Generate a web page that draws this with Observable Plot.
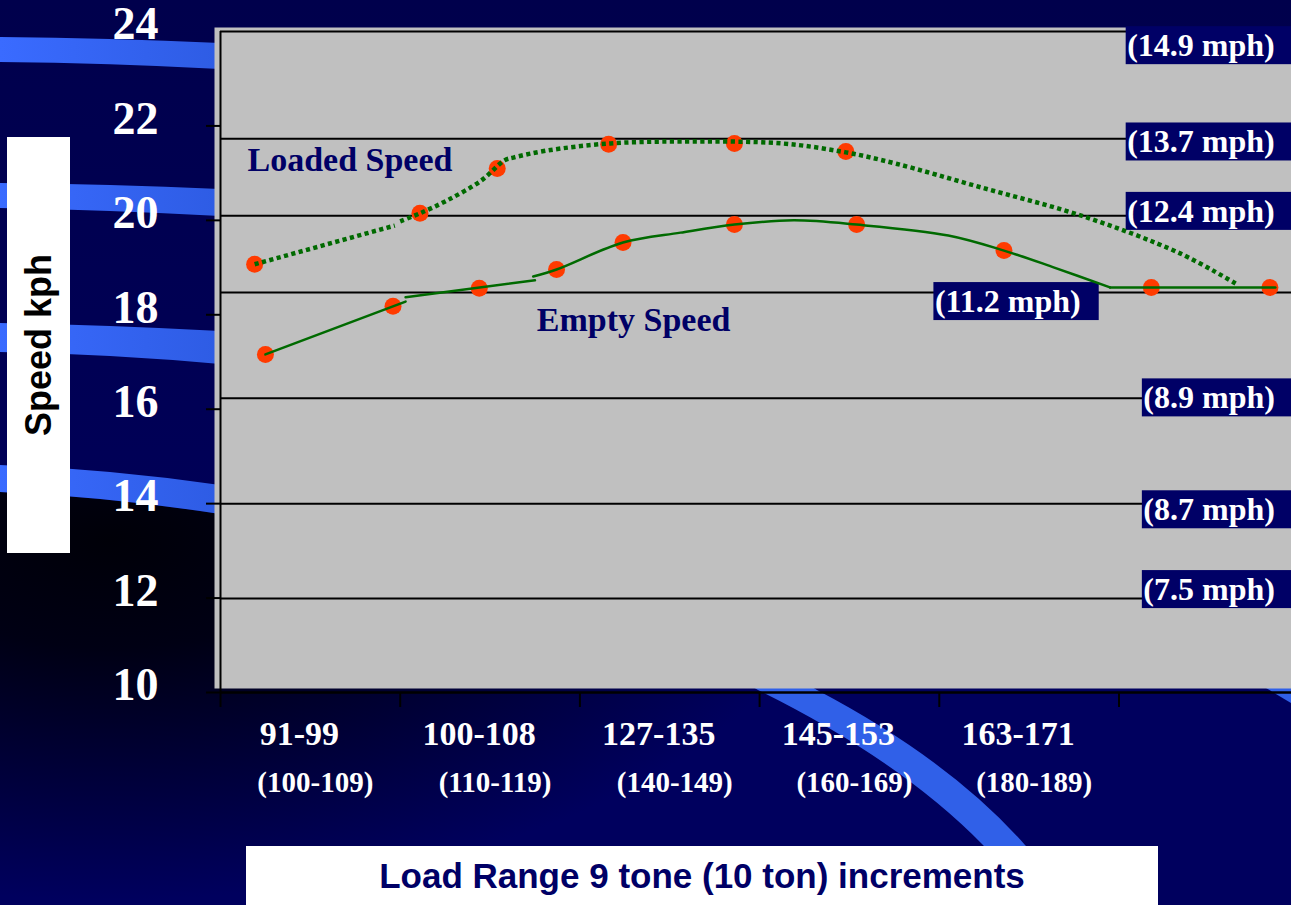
<!DOCTYPE html>
<html>
<head>
<meta charset="utf-8">
<script src="https://cdn.jsdelivr.net/npm/d3@7"></script>
<script src="https://cdn.jsdelivr.net/npm/@observablehq/plot@0.6"></script>
<style>
  html, body { margin: 0; padding: 0; background: #000058; overflow: hidden; }
  #wrap { position: relative; width: 1291px; height: 905px; }
  #bg, #chart { position: absolute; left: 0; top: 0; }
  #ytitle { position: absolute; left: 7px; top: 137px; width: 63px; height: 416px; background: #fff; }
  #ytitle span { position: absolute; left: 50%; top: 50%; transform: translate(-50%, -50%) rotate(-90deg);
    font: bold 36px "Liberation Sans", Arial, sans-serif; color: #000; white-space: nowrap; }
  #xtitle { position: absolute; left: 246px; top: 846px; width: 912px; height: 59px; background: #fff;
    text-align: center; font: bold 35px/59px "Liberation Sans", Arial, sans-serif; color: #000066; white-space: nowrap; }
</style>
</head>
<body>
<div id="wrap">
  <svg id="bg" width="1291" height="905" xmlns="http://www.w3.org/2000/svg">
    <defs>
      <linearGradient id="base" x1="0" y1="0" x2="0" y2="1">
        <stop offset="0" stop-color="#00004c"/>
        <stop offset="1" stop-color="#000060"/>
      </linearGradient>
      <radialGradient id="dark" gradientUnits="userSpaceOnUse" cx="110" cy="540" r="360"
        gradientTransform="translate(110 540) scale(2 1) translate(-110 -540)">
        <stop offset="0" stop-color="#000008"/>
        <stop offset="0.3" stop-color="#000014"/>
        <stop offset="0.7" stop-color="#00003e"/>
        <stop offset="1" stop-color="#00005e"/>
      </radialGradient>
      <linearGradient id="stripe" x1="0" y1="0" x2="1" y2="0">
        <stop offset="0" stop-color="#3a6bff"/>
        <stop offset="1" stop-color="#2e5ce4"/>
      </linearGradient>
    </defs>
    <rect width="1291" height="905" fill="url(#base)"/>
    <path d="M0,492 Q110,497 220,514 L1291,640 L1291,905 L0,905 Z" fill="url(#dark)"/>
    <path d="M0,37 Q110,38 220,43 L220,69 Q110,63 0,62 Z" fill="url(#stripe)"/>
    <path d="M0,183 Q110,184 220,189 L220,216 Q110,210 0,208 Z" fill="url(#stripe)"/>
    <path d="M0,323 Q110,325 220,331 L220,364 Q110,354 0,352 Z" fill="url(#stripe)"/>
    <path d="M0,465 Q110,469 220,485 L220,514 Q110,497 0,492 Z" fill="url(#stripe)"/>
    <path d="M700,655 L758,690 Q900,760 983,845 L1035,905 L1085,905 L1025,845 Q950,760 817,690 L760,655 Z" fill="#3060e8"/>
    <path d="M1266,688 L1291,688 L1291,703 Z" fill="#3060e8"/>
  </svg>
  <div id="chart"></div>
  <div id="ytitle"><span>Speed kph</span></div>
  <div id="xtitle">Load Range 9 tone (10 ton) increments</div>
</div>
<script>
// ---- categories (x axis) ----
const categories = ["91-99", "100-108", "127-135", "145-153", "163-171"];
const categoriesTon = ["(100-109)", "(110-119)", "(140-149)", "(160-169)", "(180-189)"];
const categoryEdges = [-0.5, 0.5, 1.5, 2.5, 3.5, 4.5];

// ---- y axis (kph) ----
const yTickLabels = [10, 12, 14, 16, 18, 20, 22, 24];
const yTickMarks = [10, 12, 14, 16, 18, 20, 22];
const gridKph = [24, 21.73, 20.10, 18.47, 16.23, 14.0, 11.99];

// ---- mph annotations ----
const mphLabels = ["(14.9 mph)", "(13.7 mph)", "(12.4 mph)", "(11.2 mph)", "(8.9 mph)", "(8.7 mph)", "(7.5 mph)"];
const mphLabelKph = [23.70, 21.66, 20.19, 18.28, 16.24, 13.87, 12.18];
const mphBoxFrom = [4.54, 4.54, 4.54, 3.47, 4.63, 4.63, 4.63];
const mphBoxTo = [5.46, 5.46, 5.46, 4.39, 5.46, 5.46, 5.46];

// ---- series points (position along load axis, kph) ----
const loadedPos = [-0.31, 0.61, 1.04, 1.66, 2.36, 2.98, 5.34];
const loadedKph = [19.07, 20.15, 21.10, 21.61, 21.63, 21.46, 18.58];
const emptyPos = [-0.25, 0.46, 0.94, 1.37, 1.74, 2.36, 3.04, 3.86, 4.68];
const emptyKph = [17.16, 18.18, 18.56, 18.96, 19.53, 19.91, 19.91, 19.36, 18.58];

// ---- hand-drawn trend lines (pieces) ----
const loadedLinePos = [-0.31, 0.47, 0.50, 0.61, 0.76, 0.95, 1.08, 1.13, 1.32, 1.67, 2.06, 2.62, 2.98, 3.26, 3.73, 4.29, 4.84, 5.15];
const loadedLineKph = [19.07, 19.89, 19.98, 20.15, 20.42, 20.84, 21.27, 21.33, 21.48, 21.63, 21.67, 21.63, 21.44, 21.20, 20.70, 20.10, 19.30, 18.66];
const loadedLinePiece = [1, 1, 2, 2, 2, 2, 2, 2, 2, 2, 2, 2, 2, 2, 2, 2, 2, 2];
const emptyLinePos = [-0.25, 0.53, 0.53, 1.25, 1.24, 1.37, 1.74, 2.06, 2.36, 2.69, 3.04, 3.55, 3.86, 4.14, 4.45, 4.45, 5.37];
const emptyLineKph = [17.16, 18.28, 18.37, 18.73, 18.81, 18.96, 19.53, 19.74, 19.91, 20.00, 19.91, 19.68, 19.36, 19.00, 18.58, 18.58, 18.58];
const emptyLinePiece = [1, 1, 2, 2, 3, 3, 3, 3, 3, 3, 3, 3, 3, 3, 3, 4, 4];

// ---- series labels ----
const seriesNames = ["Loaded Speed", "Empty Speed"];
const seriesLabelPos = [-0.35, 1.26];
const seriesLabelKph = [21.27, 17.88];

const loaded = loadedPos.map((x, i) => ({x, y: loadedKph[i]}));
const empty = emptyPos.map((x, i) => ({x, y: emptyKph[i]}));
const loadedLine = loadedLinePos.map((x, i) => ({x, y: loadedLineKph[i], piece: loadedLinePiece[i]}));
const emptyLine = emptyLinePos.map((x, i) => ({x, y: emptyLineKph[i], piece: emptyLinePiece[i]}));

const serif = "'Liberation Serif', 'Times New Roman', serif";
const green = "#006a00";
const dotColor = "#ff3b00";

const chart = Plot.plot({
  width: 1291,
  height: 905,
  marginLeft: 220,
  marginRight: 0,
  marginTop: 31,
  marginBottom: 213,
  x: {domain: [-0.5, 5.46], axis: null},
  y: {domain: [10, 24], axis: null},
  style: {background: "transparent", overflow: "visible"},
  marks: [
    Plot.frame({fill: "#c0c0c0", stroke: "none", insetLeft: -6, insetTop: -4, insetBottom: 4}),
    Plot.ruleY(gridKph, {stroke: "#000", strokeWidth: 2}),
    Plot.ruleX([-0.5], {stroke: "#000", strokeWidth: 2}),
    Plot.ruleY([10], {stroke: "#000", strokeWidth: 2.5}),
    Plot.axisY(yTickMarks, {tickSize: 14, tickFormat: () => "", stroke: "#000", strokeWidth: 2, label: null}),
    Plot.axisX(categoryEdges, {tickSize: 15, tickFormat: () => "", stroke: "#000", strokeWidth: 2, label: null}),
    Plot.text(yTickLabels, {y: d => d, text: d => String(d), frameAnchor: "left", lineAnchor: "middle", textAnchor: "end", dx: -62, dy: -7,
      fill: "white", fontSize: 46, fontWeight: "bold", fontFamily: serif}),
    Plot.text(categories, {x: (d, i) => i, text: d => d, frameAnchor: "bottom", lineAnchor: "middle", dy: 42, dx: -11,
      fill: "white", fontSize: 34, fontWeight: "bold", fontFamily: serif}),
    Plot.text(categoriesTon, {x: (d, i) => i, text: d => d, frameAnchor: "bottom", lineAnchor: "middle", dy: 90, dx: 5,
      fill: "white", fontSize: 29, fontWeight: "bold", fontFamily: serif}),
    Plot.rect(mphLabels, {x1: (d, i) => mphBoxFrom[i], x2: (d, i) => mphBoxTo[i],
      y1: (d, i) => mphLabelKph[i], y2: (d, i) => mphLabelKph[i], insetTop: -19, insetBottom: -19, fill: "#000066"}),
    Plot.text(mphLabels, {x: (d, i) => mphBoxFrom[i], y: (d, i) => mphLabelKph[i], text: d => d, textAnchor: "start", dx: 1,
      fill: "white", fontSize: 32, fontWeight: "bold", fontFamily: serif}),
    Plot.text(seriesNames, {x: (d, i) => seriesLabelPos[i], y: (d, i) => seriesLabelKph[i], text: d => d, textAnchor: "start",
      fill: "#000066", fontSize: 34, fontWeight: "bold", fontFamily: serif}),
    Plot.dot(loaded, {x: "x", y: "y", r: 8.5, fill: dotColor}),
    Plot.dot(empty, {x: "x", y: "y", r: 8.5, fill: dotColor}),
    Plot.line(loadedLine, {x: "x", y: "y", z: "piece", curve: "catmull-rom", stroke: green, strokeWidth: 4.5,
      strokeDasharray: "4.2 3.4", strokeLinecap: "butt"}),
    Plot.line(emptyLine, {x: "x", y: "y", z: "piece", curve: "catmull-rom", stroke: green, strokeWidth: 2.5})
  ]
});
document.getElementById("chart").appendChild(chart);
</script>
</body>
</html>
